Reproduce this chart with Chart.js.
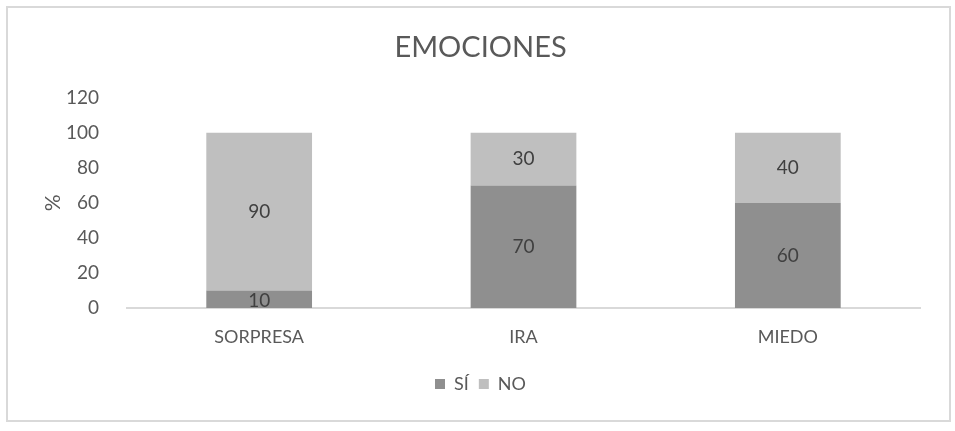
<!DOCTYPE html>
<html lang="es">
<head>
    <meta charset="UTF-8">
    <title>EMOCIONES</title>
    <script src="https://cdn.jsdelivr.net/npm/chart.js@4.4.0/dist/chart.umd.min.js"></script>
    <style>
        body{
            margin: 0;
            background: #fff;
        }
        #frame{
            position: absolute;
            left: 6px;
            top: 6px;
            width: 941px;
            height: 412px;
            border: 2px solid #d9d9d9;
            pointer-events: none;
        }
        #canvas{
            position: absolute;
            left: 0;
            top: 0;
        }
    </style>
</head>
<body>
    <canvas id="canvas" width="955" height="431"></canvas>
    <div id="frame"></div>

<script type="text/javascript">
    var categories = ["SORPRESA", "IRA", "MIEDO"];
    var si = [10, 70, 60];
    var no = [90, 30, 40];
    var yTicks = [0, 20, 40, 60, 80, 100, 120];

    var font = "Lato";
    var textColor = "#595959";

    // values written in the middle of each bar segment
    var barLabels = {
        id: 'barLabels',
        afterDatasetsDraw: function(chart){
            var ctx = chart.ctx;
            ctx.save();
            ctx.font = "19px " + font;
            ctx.fillStyle = "#404040";
            ctx.textAlign = "center";
            ctx.textBaseline = "middle";
            chart.data.datasets.forEach(function(ds, i){
                chart.getDatasetMeta(i).data.forEach(function(bar, j){
                    var mid = (bar.y + bar.base) / 2;
                    if (ds.data[j] <= 10) mid += 2;
                    ctx.fillText(ds.data[j], bar.x, mid);
                });
            });
            ctx.restore();
        }
    };

    const ctx = document.getElementById('canvas').getContext('2d');
    const myChart = new Chart(ctx, {
        type: 'bar',
        data: {
            labels: categories,
            datasets: [{
                label: 'SÍ',
                data: si,
                backgroundColor: "#8f8f8f"
            },{
                label: 'NO',
                data: no,
                backgroundColor: "#bfbfbf"
            }]
        },
        plugins: [barLabels],
        options: {
            responsive: false,
            animation: false,
            devicePixelRatio: 1,
            layout: {
                padding: {left: 41, right: 35, top: 30, bottom: 28}
            },
            datasets: {
                bar: {categoryPercentage: 1, barPercentage: 0.4}
            },
            plugins: {
                title: {
                    display: true,
                    text: 'EMOCIONES',
                    color: textColor,
                    font: {family: font, size: 29, weight: 'normal'},
                    padding: {top: 0, bottom: 33}
                },
                legend: {
                    position: 'bottom',
                    labels: {
                        color: textColor,
                        font: {family: font, size: 18},
                        boxWidth: 10,
                        boxHeight: 10,
                        padding: 10
                    }
                },
                tooltip: {enabled: false}
            },
            scales: {
                x: {
                    stacked: true,
                    grid: {display: false},
                    border: {display: true, color: "#d9d9d9", width: 2},
                    ticks: {
                        color: textColor,
                        font: {family: font, size: 18},
                        padding: 10
                    },
                    afterFit: function(scale){ scale.height = 57; }
                },
                y: {
                    stacked: true,
                    min: 0,
                    max: 120,
                    grid: {display: false},
                    border: {display: false},
                    afterBuildTicks: function(scale){
                        scale.ticks = yTicks.map(function(v){ return {value: v}; });
                    },
                    ticks: {
                        color: textColor,
                        font: {family: font, size: 19},
                        padding: 20
                    },
                    title: {
                        display: true,
                        text: '%',
                        color: textColor,
                        font: {family: font, size: 21},
                        padding: 0
                    },
                    afterFit: function(scale){ scale.width = 86; }
                }
            }
        }
    });
</script>
</body>
</html>
